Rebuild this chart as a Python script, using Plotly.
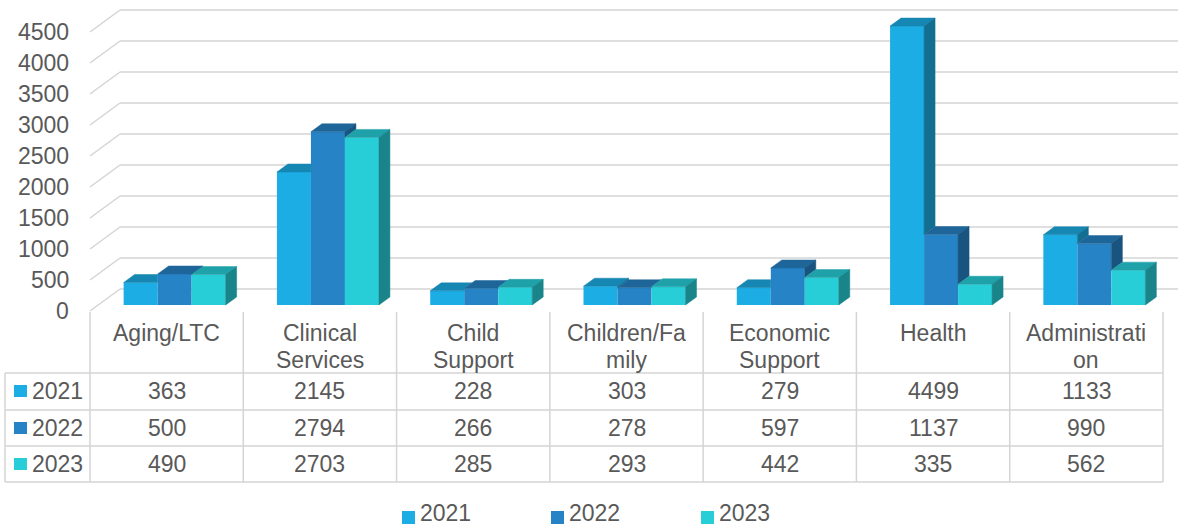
import plotly.graph_objects as go

# ---------------- data ----------------
categories = ["Aging/LTC", "Clinical Services", "Child Support", "Children/Family",
              "Economic Support", "Health", "Administration"]
header_lines = [["Aging/LTC"], ["Clinical", "Services"], ["Child", "Support"],
                ["Children/Fa", "mily"], ["Economic", "Support"], ["Health"],
                ["Administrati", "on"]]
series_names = ["2021", "2022", "2023"]
values_2021 = [363, 2145, 228, 303, 279, 4499, 1133]
values_2022 = [500, 2794, 266, 278, 597, 1137, 990]
values_2023 = [490, 2703, 285, 293, 442, 335, 562]
y_ticks = [0, 500, 1000, 1500, 2000, 2500, 3000, 3500, 4000, 4500]

series_values = [values_2021, values_2022, values_2023]

# ---------------- styles ----------------
front_colors = ["#1CADE4", "#2683C6", "#27CED7"]
top_colors = ["#1687B2", "#1E669A", "#1EA1A8"]
side_colors = ["#126F92", "#18547F", "#19848A"]
TEXT = "#595959"
GRID = "#d4d4d4"
FONT = "Liberation Sans"
FS = 23

W, H = 1178, 527
COL0 = 90.0
COLW = (1163.0 - 90.0) / 7
Y0PX = 311.0
PXPU = 279.0 / 4500.0


def data_x(px):
    return -0.5 + (px - COL0) / COLW


def data_y(py):
    return (Y0PX - py) / PXPU


def px_paper(px):
    return px / W


def py_paper(py):
    return 1 - py / H


bar_w = 34 / COLW
group_shift = 8 / COLW
dx = 11 / COLW
dy = 8 / PXPU
base = 6 / PXPU
wall_dx = 30 / COLW
wall_dy = 22 / PXPU

fig = go.Figure()

offsets = [group_shift + (k - 1.5) * bar_w for k in range(3)]
xs = list(range(len(categories)))

# front faces
for k, name in enumerate(series_names):
    fig.add_trace(go.Bar(
        x=xs, y=series_values[k], base=base, width=bar_w, offset=offsets[k],
        marker=dict(color=front_colors[k], line=dict(width=0)),
        name=name, showlegend=False, hoverinfo="skip"))

# top and side faces (computed from the values)
for k in range(3):
    tx, ty, sx, sy = [], [], [], []
    for i in xs:
        v = series_values[k][i]
        xl = i + offsets[k]
        xr_ = xl + bar_w
        top = base + v
        if k < 2:
            nt = base + series_values[k + 1][i]
        else:
            nt = base
        c = min(nt, top + dy) if (k < 2 and nt > top) else top
        tx += [xl, xr_, xr_, xr_ + (top + dy - c) * dx / dy, xl + dx, xl, None]
        ty += [top, top, c, top + dy, top + dy, top, None]
        lower = nt if k < 2 else base
        if top > lower:
            sx += [xr_, xr_, xr_ + dx, xr_ + dx, xr_, None]
            sy += [lower, top, top + dy, lower + dy, lower, None]
    fig.add_trace(go.Scatter(x=tx, y=ty, fill="toself", mode="lines",
                             line=dict(width=0.5, color=top_colors[k]),
                             fillcolor=top_colors[k], showlegend=False, hoverinfo="skip"))
    if sx:
        fig.add_trace(go.Scatter(x=sx, y=sy, fill="toself", mode="lines",
                                 line=dict(width=0.5, color=side_colors[k]),
                                 fillcolor=side_colors[k], showlegend=False, hoverinfo="skip"))

shapes = []
annotations = []
xmin, xmax = data_x(0), data_x(W)

# gridlines (side wall + back wall)
for v in y_ticks:
    shapes.append(dict(type="line", xref="x", yref="y", x0=-0.5, y0=v,
                       x1=-0.5 + wall_dx, y1=v + wall_dy,
                       line=dict(color=GRID, width=1.5), layer="below"))
    shapes.append(dict(type="line", xref="x", yref="y", x0=-0.5 + wall_dx, y0=v + wall_dy,
                       x1=xmax, y1=v + wall_dy,
                       line=dict(color=GRID, width=1.5), layer="below"))
    annotations.append(dict(xref="paper", yref="y", x=px_paper(71), y=v, text=str(v),
                            xanchor="right", yanchor="middle", showarrow=False,
                            font=dict(family=FONT, size=FS, color=TEXT)))

# data table
row_y = [391, 428, 464]
for i in range(len(categories) + 1):
    shapes.append(dict(type="line", xref="x", yref="paper", x0=i - 0.5, x1=i - 0.5,
                       y0=py_paper(312), y1=py_paper(482),
                       line=dict(color=GRID, width=1.5)))
shapes.append(dict(type="line", xref="paper", yref="paper", x0=px_paper(5), x1=px_paper(5),
                   y0=py_paper(373), y1=py_paper(482), line=dict(color=GRID, width=1.5)))
for py in [373, 410, 446, 482]:
    shapes.append(dict(type="line", xref="paper", yref="paper", x0=px_paper(5),
                       x1=px_paper(1163), y0=py_paper(py), y1=py_paper(py),
                       line=dict(color=GRID, width=1.5)))

for i, lines in enumerate(header_lines):
    for j, t in enumerate(lines):
        annotations.append(dict(xref="x", yref="paper", x=i, y=py_paper(333 + 27 * j),
                                text=t, xanchor="center", yanchor="middle", showarrow=False,
                                font=dict(family=FONT, size=FS, color=TEXT)))

for k, name in enumerate(series_names):
    ry = row_y[k]
    shapes.append(dict(type="rect", xref="paper", yref="paper",
                       x0=px_paper(14), x1=px_paper(27), y0=py_paper(ry - 6), y1=py_paper(ry + 6),
                       fillcolor=front_colors[k], line=dict(width=0)))
    annotations.append(dict(xref="paper", yref="paper", x=px_paper(30), y=py_paper(ry),
                            text=name, xanchor="left", yanchor="middle", showarrow=False,
                            font=dict(family=FONT, size=FS, color=TEXT)))
    for i in xs:
        annotations.append(dict(xref="x", yref="paper", x=i, y=py_paper(ry),
                                text=str(series_values[k][i]), xanchor="center",
                                yanchor="middle", showarrow=False,
                                font=dict(family=FONT, size=FS, color=TEXT)))

# legend (bottom)
legend_x = [402, 551, 701]
for k, name in enumerate(series_names):
    lx = legend_x[k]
    shapes.append(dict(type="rect", xref="paper", yref="paper",
                       x0=px_paper(lx), x1=px_paper(lx + 13), y0=py_paper(524), y1=py_paper(511),
                       fillcolor=front_colors[k], line=dict(width=0)))
    annotations.append(dict(xref="paper", yref="paper", x=px_paper(lx + 16), y=py_paper(513),
                            text=name, xanchor="left", yanchor="middle", showarrow=False,
                            font=dict(family=FONT, size=FS, color=TEXT)))

fig.update_layout(
    width=W, height=H,
    margin=dict(l=0, r=0, t=0, b=0, pad=0),
    paper_bgcolor="white", plot_bgcolor="white",
    barmode="overlay",
    showlegend=False,
    xaxis=dict(range=[xmin, xmax], visible=False, fixedrange=True, domain=[0, 1]),
    yaxis=dict(range=[data_y(H), data_y(0)], visible=False, fixedrange=True, domain=[0, 1]),
    shapes=shapes,
    annotations=annotations,
)

fig.write_html("out.html")
